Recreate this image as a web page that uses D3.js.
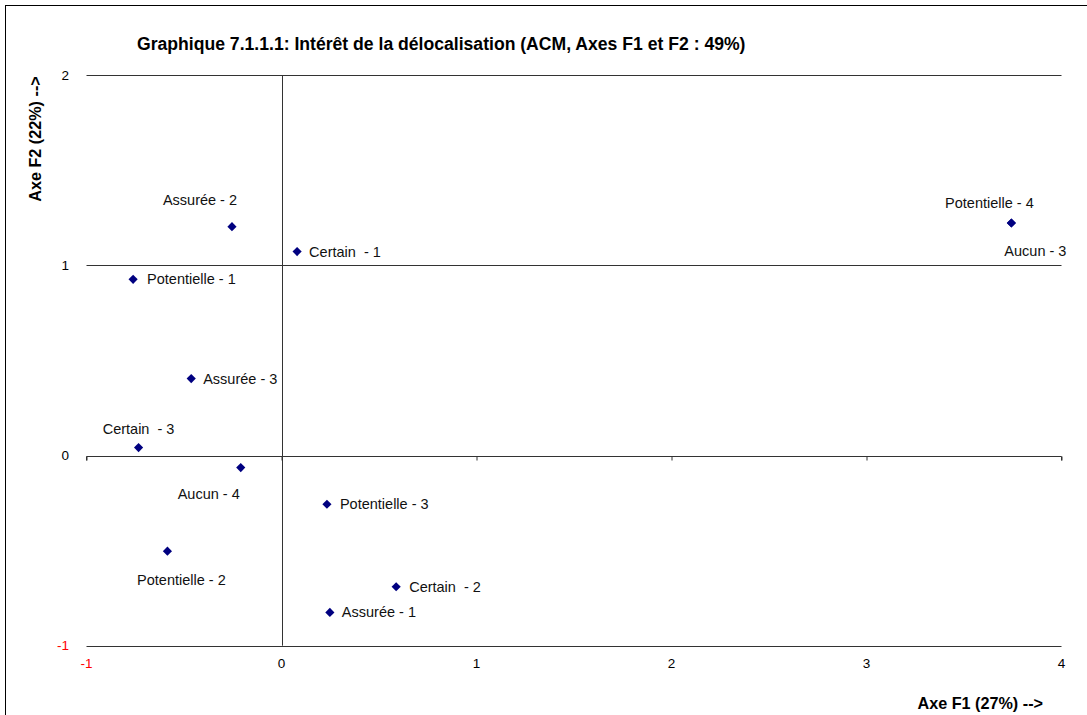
<!DOCTYPE html>
<html>
<head>
<meta charset="utf-8">
<script src="https://cdn.jsdelivr.net/npm/d3@7/dist/d3.min.js"></script>
<style>
  html, body { margin: 0; padding: 0; background: #fff; }
  svg { display: block; font-family: "Liberation Sans", Arial, sans-serif; }
</style>
</head>
<body>
<svg id="chart" width="1087" height="715"></svg>
<script>
// ---- data ----
const labels = ["Assurée - 2", "Certain  - 1", "Potentielle - 1", "Assurée - 3", "Certain  - 3",
                "Aucun - 4", "Potentielle - 3", "Potentielle - 2", "Certain  - 2", "Assurée - 1",
                "Potentielle - 4", "Aucun - 3"];
const f1 = [-0.254, 0.080, -0.761, -0.463, -0.733, -0.209, 0.233, -0.585, 0.588, 0.248, 3.743, 3.743];
const f2 = [1.204, 1.073, 0.927, 0.405, 0.042, -0.063, -0.256, -0.503, -0.690, -0.825, 1.223, 1.223];
const xTicks = [-1, 0, 1, 2, 3, 4];
const yTicks = [-1, 0, 1, 2];
const title = "Graphique 7.1.1.1: Intérêt de la délocalisation (ACM, Axes F1 et F2 : 49%)";
const xTitle = "Axe F1 (27%) -->";
const yTitle = "Axe F2 (22%) -->";

// label placement (offset of the text centre / start relative to the point)
const labelPlacement = [
  {dx: -32, dy: -27, anchor: "middle"},
  {dx: 12, dy: 0, anchor: "start"},
  {dx: 14, dy: 0, anchor: "start"},
  {dx: 12, dy: 0, anchor: "start"},
  {dx: 0, dy: -19, anchor: "middle"},
  {dx: -32, dy: 26, anchor: "middle"},
  {dx: 13, dy: 0, anchor: "start"},
  {dx: 14, dy: 29, anchor: "middle"},
  {dx: 13, dy: 0, anchor: "start"},
  {dx: 12, dy: 0, anchor: "start"},
  {dx: -22, dy: -20, anchor: "middle"},
  {dx: 24, dy: 28, anchor: "middle"}
];

const svg = d3.select("#chart");

// outer frame
svg.append("rect").attr("x", 5.5).attr("y", 5.5).attr("width", 1200).attr("height", 900)
  .attr("fill", "none").attr("stroke", "#000").attr("stroke-width", 1);

const x = d3.scaleLinear().domain([-1, 4]).range([86.5, 1061.5]);
const y = d3.scaleLinear().domain([-1, 2]).range([645.7, 75.3]);

// horizontal gridlines
svg.append("g").selectAll("line").data(yTicks.filter(d => d !== 0)).join("line")
  .attr("x1", x(-1)).attr("x2", x(4))
  .attr("y1", d => Math.round(y(d)) + 0.5).attr("y2", d => Math.round(y(d)) + 0.5)
  .attr("stroke", "#333").attr("stroke-width", 1);

// x axis along y = 0
const xAxis = d3.axisBottom(x).tickValues(xTicks).tickSize(4).tickFormat("");
const gx = svg.append("g").attr("transform", `translate(0,${Math.round(y(0)) + 0.5})`).call(xAxis);
gx.select(".domain").attr("stroke", "#333").attr("d", `M${x(-1)},4V0H${x(4)}V4`);
gx.selectAll(".tick line").attr("stroke", "#333");

// y axis along x = 0
svg.append("line")
  .attr("x1", Math.round(x(0)) + 0.5).attr("x2", Math.round(x(0)) + 0.5)
  .attr("y1", y(2)).attr("y2", y(-1)).attr("stroke", "#333");

// x tick labels at bottom
svg.append("g").selectAll("text").data(xTicks).join("text")
  .attr("x", d => x(d)).attr("y", 663)
  .attr("text-anchor", "middle").attr("dominant-baseline", "central")
  .attr("font-size", 13.5)
  .attr("fill", d => d < 0 ? "#ff0000" : "#000")
  .text(d => d);

// y tick labels at left
svg.append("g").selectAll("text").data(yTicks).join("text")
  .attr("x", 69).attr("y", d => y(d))
  .attr("text-anchor", "end").attr("dominant-baseline", "central")
  .attr("font-size", 13.5)
  .attr("fill", d => d < 0 ? "#ff0000" : "#000")
  .text(d => d);

// points
const pts = labels.map((l, i) => ({label: l, x: f1[i], y: f2[i], p: labelPlacement[i]}));
svg.append("g").selectAll("path").data(pts).join("path")
  .attr("d", d3.symbol().type(d3.symbolSquare).size(42))
  .attr("transform", d => `translate(${x(d.x)},${y(d.y)}) rotate(45)`)
  .attr("fill", "#000080");

// point labels
svg.append("g").selectAll("text").data(pts).join("text")
  .attr("x", d => x(d.x) + d.p.dx).attr("y", d => y(d.y) + d.p.dy)
  .attr("text-anchor", d => d.p.anchor).attr("dominant-baseline", "central")
  .attr("font-size", 14.5).attr("fill", "#111")
  .style("white-space", "pre")
  .text(d => d.label);

// titles
svg.append("text").attr("x", 137).attr("y", 44)
  .attr("dominant-baseline", "central").attr("font-size", 17.6).attr("font-weight", "bold")
  .text(title);

svg.append("text").attr("x", 1043).attr("y", 703)
  .attr("text-anchor", "end").attr("dominant-baseline", "central")
  .attr("font-size", 16.2).attr("font-weight", "bold")
  .text(xTitle);

svg.append("text").attr("transform", "translate(35,139) rotate(-90)")
  .attr("text-anchor", "middle").attr("dominant-baseline", "central")
  .attr("font-size", 16.2).attr("font-weight", "bold")
  .text(yTitle);
</script>
</body>
</html>
